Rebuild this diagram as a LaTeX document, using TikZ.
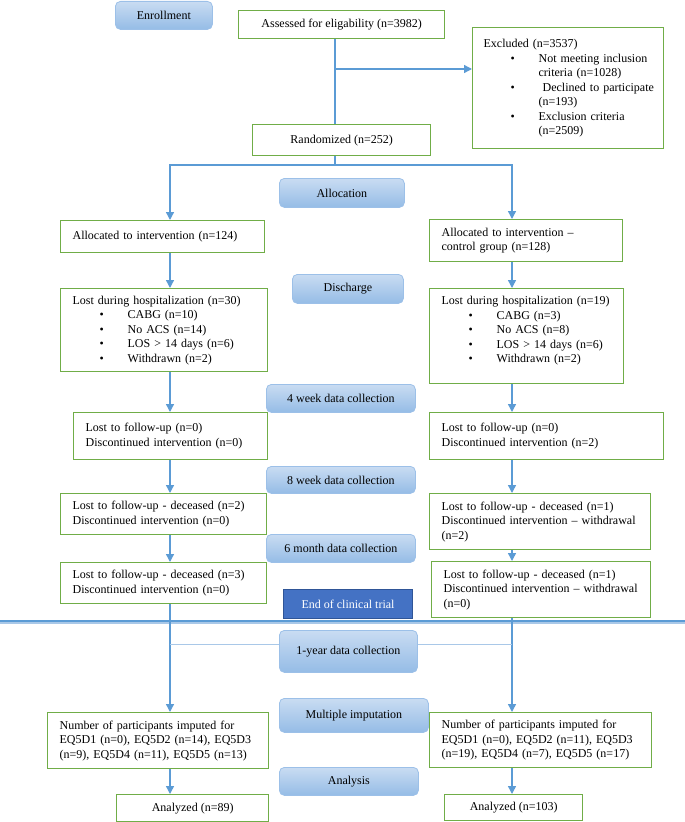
\documentclass[tikz,border=0pt]{standalone}
\usepackage{fontspec}
\setmainfont{Liberation Serif}
\usetikzlibrary{arrows.meta}
\definecolor{gr}{HTML}{70AD47}
\definecolor{ln}{HTML}{5B9BD5}
\definecolor{lnlight}{HTML}{A9C8E8}
\definecolor{labtop}{HTML}{C9DCF2}
\definecolor{labbot}{HTML}{95BCE6}
\definecolor{labdraw}{HTML}{9CC0E8}
\definecolor{endfill}{HTML}{4472C4}
\definecolor{enddraw}{HTML}{2F5597}
\newcommand{\bul}{\hspace*{27bp}\makebox[28bp][l]{\textbullet}}
\newcommand{\cont}{\hspace*{55bp}}
\begin{document}
\begin{tikzpicture}[x=1bp,y=-1bp,
  every node/.style={font=\fontsize{12bp}{14.5bp}\selectfont, inner sep=0pt},
  gbox/.style={draw=gr, line width=1.3bp, fill=white, rectangle, anchor=north west},
  lbox/.style={gbox, align=left, inner xsep=12bp},
  cbox/.style={gbox, align=center},
  lab/.style={rounded corners=5bp, draw=labdraw, line width=0.8bp, top color=labtop, bottom color=labbot, anchor=north west, align=center},
  endlab/.style={draw=enddraw, line width=1bp, fill=endfill, text=white, anchor=north west, align=center},
  conn/.style={draw=ln, line width=1.4bp},
  arr/.style={conn, -{Triangle[width=8bp,length=8bp]}},
  thinconn/.style={draw=lnlight, line width=1bp},
]
\useasboundingbox (0,0) rectangle (685,822);

% coordinates for connector columns
\coordinate (xl) at (170,0);
\coordinate (xr) at (512,0);
\coordinate (xm) at (335,0);
\coordinate (bx) at (335,69);
\coordinate (sp) at (335,165);
\coordinate (ly) at (0,644);
\coordinate (sepL) at (0,621);
\coordinate (sepR) at (685,621);
\coordinate (sepLs) at (0,623);
\coordinate (sepRs) at (685,623);

% stage labels
\node[lab, minimum width=97bp, minimum height=28bp] (enr) at (115,1) {Enrollment};
\node[lab, minimum width=125bp, minimum height=29bp] (alloc) at (279,178) {Allocation};
\node[lab, minimum width=111bp, minimum height=29bp] (disc) at (292,274) {Discharge};
\node[lab, minimum width=149bp, minimum height=28bp] (w4) at (266,384) {4 week data collection};
\node[lab, minimum width=149bp, minimum height=27bp] (w8) at (266,466) {8 week data collection};
\node[lab, minimum width=149bp, minimum height=28bp] (m6) at (266,534) {6 month data collection};
\node[endlab, minimum width=129bp, minimum height=29bp] (endt) at (283,589) {End of clinical trial};
\node[lab, minimum width=138bp, minimum height=42bp] (y1) at (279,630) {1-year data collection};
\node[lab, minimum width=149bp, minimum height=34bp] (mi) at (279,698) {Multiple imputation};
\node[lab, minimum width=139bp, minimum height=28bp] (an) at (279,767) {Analysis};

% separator
\draw[draw=lnlight, line width=2bp] (sepLs) -- (sepRs);
\draw[draw=ln, line width=2.6bp] (sepL) -- (sepR);

% boxes
\node[cbox, minimum width=206bp, minimum height=28bp] (assess) at (238,10) {Assessed for eligability (n=3982)};
\node[lbox, inner xsep=11bp, minimum width=191bp, minimum height=121bp, text width=169bp] (excl) at (472,27)
  {\mbox{Excluded (n=3537)}\\
   \mbox{\bul Not meeting inclusion}\\
   \mbox{\cont criteria (n=1028)}\\
   \mbox{\bul\ Declined to participate}\\
   \mbox{\cont (n=193)}\\
   \mbox{\bul Exclusion criteria}\\
   \mbox{\cont (n=2509)}};
\node[cbox, minimum width=178bp, minimum height=31bp] (rand) at (252,124) {Randomized (n=252)};

\node[lbox, minimum width=204bp, minimum height=32bp, text width=180bp] (LA) at (60,220)
  {Allocated to intervention (n=124)};
\node[lbox, minimum width=193bp, minimum height=42bp, text width=169bp] (RA) at (429,219)
  {Allocated to intervention --\\control group (n=128)};

\node[lbox, minimum width=207bp, minimum height=83bp, text width=183bp] (LL) at (60,288)
  {Lost during hospitalization (n=30)\\
   \bul CABG (n=10)\\
   \bul No ACS (n=14)\\
   \bul LOS > 14 days (n=6)\\
   \bul Withdrawn (n=2)};
\node[lbox, minimum width=194bp, minimum height=95bp, text width=170bp] (RL) at (429,288)
  {Lost during hospitalization (n=19)\\
   \bul CABG (n=3)\\
   \bul No ACS (n=8)\\
   \bul LOS > 14 days (n=6)\\
   \bul Withdrawn (n=2)\\[-1bp]
   \mbox{}};

\node[lbox, minimum width=194bp, minimum height=47bp, text width=170bp] (L4) at (73,412)
  {Lost to follow-up (n=0)\\Discontinued intervention (n=0)};
\node[lbox, minimum width=234bp, minimum height=47bp, text width=210bp] (R4) at (429,412)
  {Lost to follow-up (n=0)\\Discontinued intervention (n=2)};

\node[lbox, minimum width=206bp, minimum height=41bp, text width=182bp] (L8) at (60,493)
  {Lost to follow-up - deceased (n=2)\\Discontinued intervention (n=0)};
\node[lbox, minimum width=221bp, minimum height=56bp, text width=197bp] (R8) at (429,493)
  {Lost to follow-up - deceased (n=1)\\\mbox{Discontinued intervention -- withdrawal}\\(n=2)};

\node[lbox, minimum width=206bp, minimum height=41bp, text width=182bp] (L6) at (60,562)
  {Lost to follow-up - deceased (n=3)\\Discontinued intervention (n=0)};
\node[lbox, minimum width=219bp, minimum height=56bp, text width=195bp] (R6) at (431,561)
  {Lost to follow-up - deceased (n=1)\\\mbox{Discontinued intervention -- withdrawal}\\(n=0)};

\node[lbox, minimum width=221bp, minimum height=56bp, text width=197bp] (LI) at (47,712)
  {Number of participants imputed for\\\mbox{EQ5D1 (n=0), EQ5D2 (n=14), EQ5D3}\\\mbox{(n=9), EQ5D4 (n=11), EQ5D5 (n=13)}};
\node[lbox, minimum width=222bp, minimum height=55bp, text width=198bp] (RI) at (429,712)
  {Number of participants imputed for\\\mbox{EQ5D1 (n=0), EQ5D2 (n=11), EQ5D3}\\\mbox{(n=19), EQ5D4 (n=7), EQ5D5 (n=17)}};

\node[cbox, minimum width=152bp, minimum height=27bp] (LZ) at (116,794) {Analyzed (n=89)};
\node[cbox, minimum width=138bp, minimum height=26bp] (RZ) at (444,794) {Analyzed (n=103)};

% connectors
\draw[conn] (assess.south -| xm) -- (rand.north -| xm);
\draw[arr] (bx) -- (bx -| excl.west);
\draw[conn] (rand.south -| xm) -- (sp);
\draw[arr] (sp) -- (sp -| xl) -- (LA.north -| xl);
\draw[arr] (sp) -- (sp -| xr) -- (RA.north -| xr);

\draw[arr] (LA.south -| xl) -- (LL.north -| xl);
\draw[arr] (LL.south -| xl) -- (L4.north -| xl);
\draw[arr] (L4.south -| xl) -- (L8.north -| xl);
\draw[arr] (L8.south -| xl) -- (L6.north -| xl);
\draw[arr] (L6.south -| xl) -- (LI.north -| xl);
\draw[arr] (LI.south -| xl) -- (LZ.north -| xl);

\draw[arr] (RA.south -| xr) -- (RL.north -| xr);
\draw[arr] (RL.south -| xr) -- (R4.north -| xr);
\draw[arr] (R4.south -| xr) -- (R8.north -| xr);
\draw[arr] (R8.south -| xr) -- (R6.north -| xr);
\draw[arr] (R6.south -| xr) -- (RI.north -| xr);
\draw[arr] (RI.south -| xr) -- (RZ.north -| xr);

\draw[thinconn] (ly -| xl) -- (ly -| y1.west);
\draw[thinconn] (ly -| y1.east) -- (ly -| xr);
\end{tikzpicture}
\end{document}
